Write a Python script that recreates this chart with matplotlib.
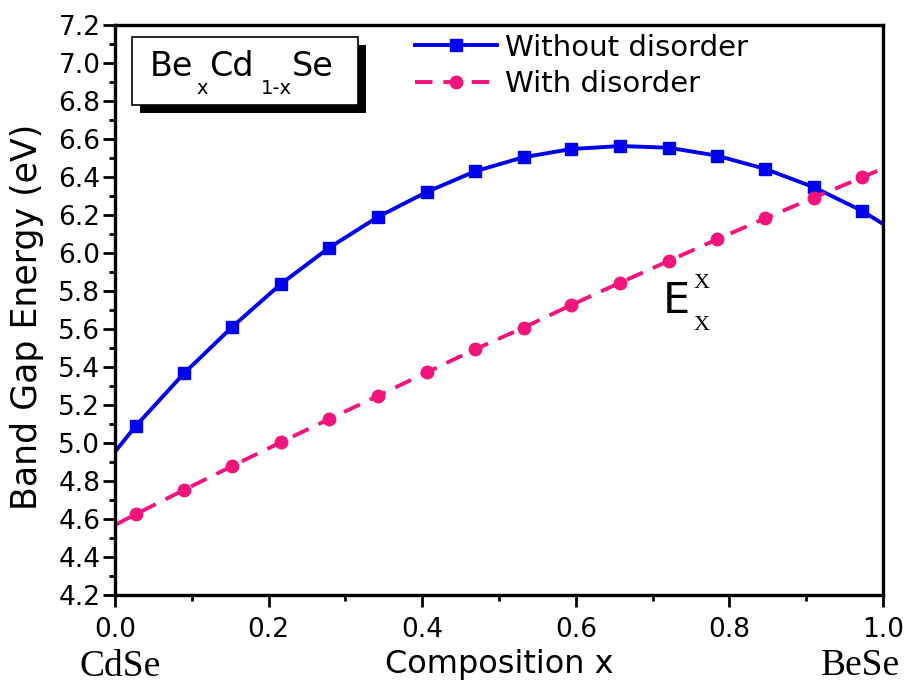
import matplotlib
matplotlib.use('Agg')
import matplotlib.pyplot as plt
from matplotlib.patches import Rectangle
from matplotlib.ticker import MultipleLocator

# Composition x of the marked points
x_points = [0.027, 0.090, 0.153, 0.216, 0.279, 0.343, 0.406, 0.469,
            0.532, 0.594, 0.658, 0.721, 0.784, 0.847, 0.910, 0.973]

# Band gap (eV)
e_without = [5.089, 5.367, 5.612, 5.837, 6.028, 6.191, 6.321, 6.430,
             6.504, 6.547, 6.563, 6.554, 6.512, 6.442, 6.346, 6.221]
e_with = [4.625, 4.753, 4.879, 5.004, 5.126, 5.249, 5.372, 5.493,
          5.607, 5.726, 5.844, 5.958, 6.072, 6.183, 6.291, 6.398]

# curve ends at x = 0 and x = 1
x_ends = [0.0, 1.0]
without_ends = [4.954, 6.153]
with_ends = [4.568, 6.445]

x_line = [x_ends[0]] + x_points + [x_ends[1]]
without_line = [without_ends[0]] + e_without + [without_ends[1]]
with_line = [with_ends[0]] + e_with + [with_ends[1]]

blue = '#0000F0'
pink = '#F2147A'

fig = plt.figure(figsize=(9.06, 6.90), dpi=100)
ax = fig.add_axes([0.1269, 0.1377, 0.8477, 0.8261])

ax.plot(x_line, without_line, color=blue, lw=2.8)
ax.plot(x_points, e_without, 's', color=blue, ms=8.5, lw=0)
ax.plot(x_line, with_line, color=pink, lw=2.8, dashes=(4.5, 2.8))
ax.plot(x_points, e_with, 'o', color=pink, ms=9, lw=0)

# legend handles
ax.plot([], [], '-s', color=blue, lw=2.8, ms=8.5, label='Without disorder')
ax.plot([], [], 'o', color=pink, lw=2.8, ms=9, ls=(0, (4.5, 2.8)),
        label='With disorder')
handles, labels = ax.get_legend_handles_labels()
ax.legend(handles, labels, loc='upper left', bbox_to_anchor=(0.3906, 0.985),
          frameon=False, fontsize=21, borderpad=0, borderaxespad=0,
          handlelength=2.8, handletextpad=0.3, labelspacing=0.3)

ax.set_xlim(0, 1)
ax.set_ylim(4.2, 7.2)
ax.xaxis.set_major_locator(MultipleLocator(0.2))
ax.xaxis.set_minor_locator(MultipleLocator(0.1))
ax.yaxis.set_major_locator(MultipleLocator(0.2))
ax.yaxis.set_minor_locator(MultipleLocator(0.1))
ax.xaxis.set_major_formatter(lambda v, p: f'{v:.1f}')
ax.yaxis.set_major_formatter(lambda v, p: f'{v:.1f}')

for s in ax.spines.values():
    s.set_linewidth(2.4)
ax.tick_params(which='both', direction='out', top=False, right=False,
               width=2.0, labelsize=19)
ax.tick_params(which='major', length=8.5)
ax.tick_params(which='minor', length=4.5)
ax.tick_params(axis='x', which='major', pad=7)
ax.tick_params(axis='y', which='major', pad=2)

ax.set_xlabel('Composition x', fontsize=23)
ax.set_ylabel('Band Gap Energy (eV)', fontsize=25)
ax.xaxis.set_label_coords(0.501, -0.095)
ax.yaxis.set_label_coords(-0.092, 0.4886)

# end member names
ax.text(-0.0456, -0.143, 'CdSe', transform=ax.transAxes, fontsize=27,
        family='Liberation Serif', ha='left', va='baseline')
ax.text(1.022, -0.140, 'BeSe', transform=ax.transAxes, fontsize=27,
        family='Liberation Serif', ha='right', va='baseline')

# title box with shadow
ax.add_patch(Rectangle((0.0322, 0.8451), 0.295, 0.1198, transform=ax.transAxes,
                       facecolor='black', edgecolor='black', lw=0))
ax.add_patch(Rectangle((0.0217, 0.8596), 0.295, 0.1198, transform=ax.transAxes,
                       facecolor='white', edgecolor='black', lw=1.2))


def px(xp, yp):
    return (xp - 115) / 768, (595 - yp) / 570


pieces = [('Be', 150, 76, 24), ('x', 196, 94, 14), ('Cd', 209, 76, 24),
          ('1-x', 260.5, 94, 14), ('Se', 292, 76, 24)]
for txt, xp, yp, fs in pieces:
    xa, ya = px(xp, yp)
    ax.text(xa, ya, txt, transform=ax.transAxes, fontsize=fs,
            ha='left', va='baseline')

# E_x^x label
xa, ya = px(663, 313.3)
ax.text(xa, ya, 'E', transform=ax.transAxes, fontsize=31, ha='left',
        va='baseline')
xa, ya = px(694, 288.3)
ax.text(xa, ya, 'X', transform=ax.transAxes, fontsize=16,
        family='Liberation Serif', ha='left', va='baseline')
xa, ya = px(694, 330)
ax.text(xa, ya, 'X', transform=ax.transAxes, fontsize=16,
        family='Liberation Serif', ha='left', va='baseline')

fig.savefig('out.png', dpi=100)
